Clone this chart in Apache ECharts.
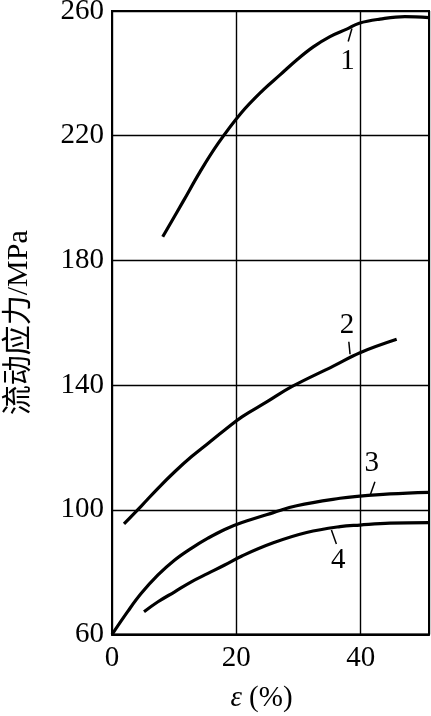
<!DOCTYPE html>
<html>
<head>
<meta charset="utf-8">
<script src="https://cdn.jsdelivr.net/npm/echarts@6/dist/echarts.min.js"></script>
<style>
html,body{margin:0;padding:0;background:#fff;}
#chart{width:431px;height:716px;}
</style>
</head>
<body>
<div id="chart"></div>
<script>
// ---- data ----
const xTicks = [0, 20, 40];
const yTicks = [60, 100, 140, 180, 220, 260];

const strain1 = [8.16, 11.47, 14.16, 17.1, 20.75, 24.34, 27.03, 29.71, 32.38, 35.07, 37.76, 39.78, 43.11, 47.13, 51];
const stress1 = [187.6, 199.0, 208.4, 217.6, 227.2, 234.7, 239.5, 244.3, 248.5, 251.8, 254.2, 256.1, 257.4, 258.2, 257.9];

const strain2 = [1.93, 4.71, 7.4, 10.09, 12.76, 15.44, 18.13, 20.96, 24.89, 28.91, 35.6, 39.9, 45.8];
const stress2 = [95.5, 101.2, 106.9, 112.2, 117.0, 121.3, 125.6, 129.9, 134.6, 139.5, 146.1, 150.4, 154.7];

const strain3 = [0, 2.57, 4.71, 7.4, 10.09, 12.76, 15.44, 18.13, 20.91, 25.95, 29.71, 36.68, 39.89, 44.72, 51];
const stress3 = [60, 67.5, 73.2, 79.1, 83.9, 87.65, 90.9, 93.7, 95.9, 99.1, 101.3, 103.7, 104.4, 105.1, 105.6];

const strain4 = [5.15, 7.4, 10.09, 12.76, 15.44, 18.13, 20.91, 25.95, 31.31, 36.68, 39.89, 44.72, 51];
const stress4 = [67.3, 70.5, 73.7, 76.9, 79.6, 82.3, 85.2, 89.4, 92.7, 94.6, 95.1, 95.7, 95.9];

const curveNames = ['1', '2', '3', '4'];
// label anchor [strain, stress] and leader line ends
const labelPos = [[37.9, 243.7], [37.8, 159.3], [41.8, 115.0], [36.4, 83.9]];
const leaderFrom = [[38.0, 250.2], [38.1, 153.9], [42.3, 109.0], [35.3, 93.5]];
const leaderTo = [[38.6, 254.4], [38.3, 149.9], [41.5, 104.5], [36.1, 89.0]];

const yName = '流动应力/MPa';

const serif = 'Liberation Serif, "Times New Roman", "Noto Sans CJK SC", serif';

function zip(xs, ys) { return xs.map((x, i) => [x, ys[i]]); }
const curves = [zip(strain1, stress1), zip(strain2, stress2), zip(strain3, stress3), zip(strain4, stress4)];

const series = curves.map((d, i) => ({
  type: 'line',
  name: curveNames[i],
  data: d,
  smooth: 0.4,
  showSymbol: false,
  symbol: 'none',
  lineStyle: { color: '#000', width: 3.2 },
  silent: true,
  z: 5,
  markLine: {
    silent: true,
    symbol: ['none', 'none'],
    label: { show: false },
    lineStyle: { color: '#000', width: 1.5, type: 'solid', opacity: 1 },
    data: [[{ coord: leaderFrom[i] }, { coord: leaderTo[i] }]]
  }
}));

series.push({
  type: 'scatter',
  data: labelPos.map((p, i) => ({ value: p, name: curveNames[i] })),
  symbolSize: 0,
  silent: true,
  itemStyle: { opacity: 1 },
  label: {
    show: true,
    position: 'inside',
    formatter: p => p.name,
    fontFamily: serif,
    fontSize: 29,
    color: '#000',
    opacity: 1
  }
});

const chart = echarts.init(document.getElementById('chart'), null, { renderer: 'canvas' });
chart.setOption({
  animation: false,
  backgroundColor: '#fff',
  grid: {
    left: 112, right: 2, top: 11, bottom: 81.5,
    outerBoundsMode: 'none',
    containLabel: false,
    show: true, borderColor: '#000', borderWidth: 2, backgroundColor: 'transparent'
  },
  xAxis: {
    type: 'value',
    min: 0, max: 51, interval: 20,
    name: '{i|ε} (%)',
    nameLocation: 'middle',
    nameGap: 49,
    nameTextStyle: {
      fontFamily: serif, fontSize: 29, color: '#000',
      padding: [0, 18, 0, 0],
      rich: { i: { fontFamily: serif, fontSize: 29, fontStyle: 'italic', color: '#000' } }
    },
    axisLine: { show: true, lineStyle: { color: '#000', width: 2 } },
    axisTick: { show: false },
    axisLabel: {
      margin: 9,
      fontFamily: serif, fontSize: 29, color: '#000',
      formatter: v => (xTicks.indexOf(v) >= 0 ? String(v) : '')
    },
    splitLine: { show: true, lineStyle: { color: '#000', width: 1.4 } }
  },
  yAxis: {
    type: 'value',
    min: 60, max: 260, interval: 40,
    name: yName,
    nameLocation: 'middle',
    nameGap: 78,
    nameTextStyle: { fontFamily: serif, fontSize: 30, color: '#000' },
    axisLine: { show: true, lineStyle: { color: '#000', width: 2 } },
    axisTick: { show: false },
    axisLabel: {
      margin: 8,
      fontFamily: serif, fontSize: 29, color: '#000',
      formatter: v => (yTicks.indexOf(v) >= 0 ? String(v) : '')
    },
    splitLine: { show: true, lineStyle: { color: '#000', width: 1.4 } }
  },
  series: series
});
</script>
</body>
</html>
